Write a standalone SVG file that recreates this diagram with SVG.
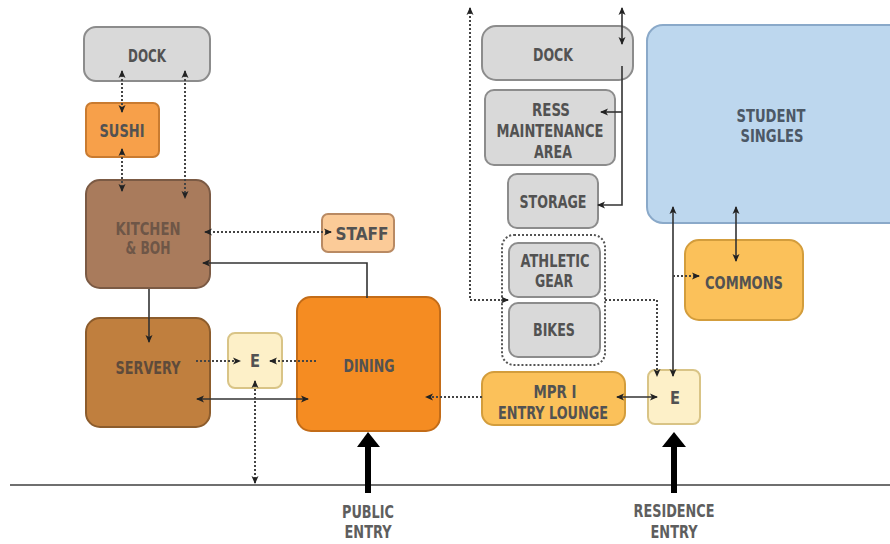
<svg xmlns="http://www.w3.org/2000/svg" width="890" height="544" viewBox="0 0 890 544">
  <style>
    .lbl { font-family: "DejaVu Sans Condensed", "DejaVu Sans", sans-serif; font-weight: bold; font-size: 17px; fill: #525252; text-anchor: middle; }
    .kit { fill: #6e5647; }
    .blue { fill: #4c5866; }
    .ent { fill: #5e5e5e; }
    .gray { fill: #d9d9d9; stroke: #8c8c8c; stroke-width: 2; }
    .solid { fill: none; stroke: #333; stroke-width: 1.6; }
    .dot { fill: none; stroke: #444; stroke-width: 2; stroke-dasharray: 2 2; }
    .grp { fill: none; stroke: #555; stroke-width: 2; stroke-dasharray: 2 2; }
  </style>
  <defs>
    <marker id="ah" viewBox="0 0 8 8" refX="7" refY="4" markerWidth="8" markerHeight="8" markerUnits="userSpaceOnUse" orient="auto-start-reverse">
      <path d="M0,0.5 L8,4 L0,7.5 L2,4 z" fill="#222"/>
    </marker>
  </defs>
  <rect width="890" height="544" fill="#fff"/>

  <!-- ground line -->
  <line x1="10" y1="485" x2="890" y2="485" stroke="#6f6f6f" stroke-width="2"/>

  <!-- food service side -->
  <g id="dock-food">
    <rect class="gray" x="84" y="27" width="126" height="54" rx="12"/>
    <text class="lbl" x="147" y="62" textLength="38" lengthAdjust="spacingAndGlyphs">DOCK</text>
  </g>
  <g id="sushi">
    <rect x="86" y="103" width="73" height="54" rx="6" fill="#f7a04a" stroke="#c97b30" stroke-width="2"/>
    <text class="lbl" x="122" y="137" textLength="45" lengthAdjust="spacingAndGlyphs">SUSHI</text>
  </g>
  <g id="kitchen">
    <rect x="86" y="180" width="124" height="108" rx="14" fill="#a97b5c" stroke="#7b5a44" stroke-width="2"/>
    <text class="lbl kit" x="148" y="235" textLength="65" lengthAdjust="spacingAndGlyphs">KITCHEN</text>
    <text class="lbl kit" x="148" y="254" textLength="45" lengthAdjust="spacingAndGlyphs">&amp; BOH</text>
  </g>
  <g id="staff">
    <rect x="322" y="214" width="72" height="38" rx="6" fill="#fbcb98" stroke="#b98a63" stroke-width="2"/>
    <text class="lbl" x="362" y="240" textLength="53" lengthAdjust="spacingAndGlyphs">STAFF</text>
  </g>
  <g id="servery">
    <rect x="86" y="318" width="124" height="109" rx="14" fill="#c07f3e" stroke="#8c5c2c" stroke-width="2"/>
    <text class="lbl" x="148" y="374" textLength="65" lengthAdjust="spacingAndGlyphs" style="fill:#5e4b3b">SERVERY</text>
  </g>
  <g id="elevator-food">
    <rect x="228" y="333" width="54" height="55" rx="7" fill="#fdf0c8" stroke="#d9c486" stroke-width="2"/>
    <text class="lbl" x="255" y="367" textLength="10" lengthAdjust="spacingAndGlyphs">E</text>
  </g>
  <g id="dining">
    <rect x="297" y="297" width="143" height="134" rx="14" fill="#f58c22" stroke="#c36c18" stroke-width="2"/>
    <text class="lbl" x="369" y="372" textLength="51" lengthAdjust="spacingAndGlyphs">DINING</text>
  </g>

  <!-- residence side -->
  <g id="dock-res">
    <rect class="gray" x="482" y="26" width="151" height="54" rx="14"/>
    <text class="lbl" x="553" y="61" textLength="40" lengthAdjust="spacingAndGlyphs">DOCK</text>
  </g>
  <g id="maintenance">
    <rect class="gray" x="485" y="90" width="130" height="75" rx="9"/>
    <text class="lbl" x="551" y="116" textLength="38" lengthAdjust="spacingAndGlyphs">RESS</text>
    <text class="lbl" x="550" y="137" textLength="107" lengthAdjust="spacingAndGlyphs">MAINTENANCE</text>
    <text class="lbl" x="553" y="158" textLength="38" lengthAdjust="spacingAndGlyphs">AREA</text>
  </g>
  <g id="storage">
    <rect class="gray" x="508" y="174" width="90" height="54" rx="9"/>
    <text class="lbl" x="553" y="208" textLength="67" lengthAdjust="spacingAndGlyphs">STORAGE</text>
  </g>
  <g id="gear-group">
    <rect class="grp" x="502" y="235" width="103" height="130" rx="12"/>
  </g>
  <g id="athletic-gear">
    <rect class="gray" x="509" y="243" width="91" height="54" rx="9"/>
    <text class="lbl" x="555" y="267" textLength="69" lengthAdjust="spacingAndGlyphs">ATHLETIC</text>
    <text class="lbl" x="554" y="287" textLength="38" lengthAdjust="spacingAndGlyphs">GEAR</text>
  </g>
  <g id="bikes">
    <rect class="gray" x="509" y="303" width="91" height="54" rx="9"/>
    <text class="lbl" x="554" y="336" textLength="42" lengthAdjust="spacingAndGlyphs">BIKES</text>
  </g>
  <g id="mpr-lounge">
    <rect x="482" y="372" width="143" height="53" rx="12" fill="#fbc15a" stroke="#d39d3c" stroke-width="2"/>
    <text class="lbl" x="555" y="398" textLength="43" lengthAdjust="spacingAndGlyphs">MPR I</text>
    <text class="lbl" x="553" y="419" textLength="110" lengthAdjust="spacingAndGlyphs">ENTRY LOUNGE</text>
  </g>
  <g id="elevator-res">
    <rect x="648" y="370" width="52" height="54" rx="7" fill="#fdf0c8" stroke="#d9c486" stroke-width="2"/>
    <text class="lbl" x="675" y="404" textLength="10" lengthAdjust="spacingAndGlyphs">E</text>
  </g>
  <g id="student-singles">
    <rect x="647" y="25" width="260" height="198" rx="16" fill="#bdd7ee" stroke="#8aa9c9" stroke-width="2"/>
    <text class="lbl blue" x="771" y="122" textLength="69" lengthAdjust="spacingAndGlyphs">STUDENT</text>
    <text class="lbl blue" x="772" y="142" textLength="63" lengthAdjust="spacingAndGlyphs">SINGLES</text>
  </g>
  <g id="commons">
    <rect x="685" y="240" width="118" height="80" rx="14" fill="#fbc15a" stroke="#d39d3c" stroke-width="2"/>
    <text class="lbl" x="744" y="289" textLength="78" lengthAdjust="spacingAndGlyphs">COMMONS</text>
  </g>

  <!-- connectors -->
  <g id="connectors">
    <line class="dot" x1="122" y1="71" x2="122" y2="112" marker-start="url(#ah)" marker-end="url(#ah)"/>
    <line class="dot" x1="122" y1="149" x2="122" y2="191" marker-start="url(#ah)" marker-end="url(#ah)"/>
    <line class="dot" x1="185" y1="71" x2="185" y2="198" marker-start="url(#ah)" marker-end="url(#ah)"/>
    <line class="dot" x1="205" y1="232" x2="331" y2="232" marker-start="url(#ah)" marker-end="url(#ah)"/>
    <path class="solid" d="M367,298 V263 H203" marker-end="url(#ah)"/>
    <line class="solid" x1="149" y1="289" x2="149" y2="342" marker-end="url(#ah)"/>
    <line class="dot" x1="196" y1="361" x2="240" y2="361" marker-end="url(#ah)"/>
    <line class="dot" x1="316" y1="361" x2="270" y2="361" marker-end="url(#ah)"/>
    <line class="solid" x1="197" y1="399" x2="308" y2="399" marker-start="url(#ah)" marker-end="url(#ah)"/>
    <line class="dot" x1="255" y1="381" x2="255" y2="483" marker-start="url(#ah)" marker-end="url(#ah)"/>
    <line class="dot" x1="482" y1="397" x2="426" y2="397" marker-end="url(#ah)"/>
    <line class="solid" x1="617" y1="397" x2="657" y2="397" marker-start="url(#ah)" marker-end="url(#ah)"/>
    <line class="solid" x1="622" y1="8" x2="622" y2="44" marker-start="url(#ah)" marker-end="url(#ah)"/>
    <path class="solid" d="M622,66 V205 H598" marker-end="url(#ah)"/>
    <path class="solid" d="M622,112 H601" marker-end="url(#ah)"/>
    <path class="dot" d="M470,8 V300 H508" marker-start="url(#ah)" marker-end="url(#ah)"/>
    <path class="dot" d="M605,300 H657 V376" marker-end="url(#ah)"/>
    <line class="solid" x1="673" y1="207" x2="673" y2="376" marker-start="url(#ah)" marker-end="url(#ah)"/>
    <path class="dot" d="M673,276 H699" marker-end="url(#ah)"/>
    <line class="solid" x1="736" y1="207" x2="736" y2="261" marker-start="url(#ah)" marker-end="url(#ah)"/>
  </g>

  <!-- entries -->
  <g id="public-entry">
    <rect x="365" y="444" width="6" height="49" fill="#000"/>
    <polygon points="357,447 368,432 380,447" fill="#000"/>
    <text class="lbl ent" x="368" y="518" textLength="52" lengthAdjust="spacingAndGlyphs">PUBLIC</text>
    <text class="lbl ent" x="368" y="538" textLength="47" lengthAdjust="spacingAndGlyphs">ENTRY</text>
  </g>
  <g id="residence-entry">
    <rect x="671" y="444" width="6" height="49" fill="#000"/>
    <polygon points="662,447 674,432 686,447" fill="#000"/>
    <text class="lbl ent" x="674" y="517" textLength="81" lengthAdjust="spacingAndGlyphs">RESIDENCE</text>
    <text class="lbl ent" x="674" y="538" textLength="47" lengthAdjust="spacingAndGlyphs">ENTRY</text>
  </g>
</svg>
